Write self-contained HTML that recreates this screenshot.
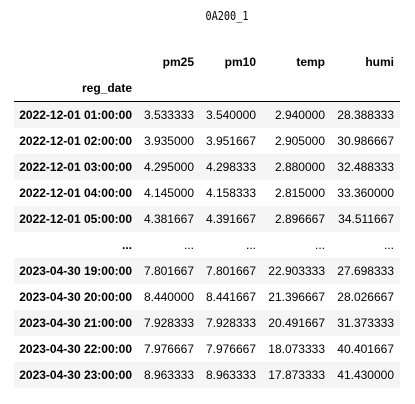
<!DOCTYPE html>
<html><head><meta charset="utf-8"><style>
body{margin:0;width:415px;height:404px;background:#fff;font-family:"Liberation Sans",Arial,sans-serif;font-size:12px;color:#000;position:relative;overflow:hidden}
#title{position:absolute;left:0;width:454px;top:9px;text-align:center;font-family:"DejaVu Sans Mono","Liberation Mono",monospace;font-size:12px;transform:scaleX(0.85);transform-origin:227px 0}
.r{position:absolute;left:14px;width:386px;height:26px;line-height:26px}
.s{background:#f5f5f5}
.c{position:absolute;top:0;text-align:right}
.c0{right:268px;font-weight:bold}.c1{right:206px}.c2{right:144px}.c3{right:75px}.c4{right:6px}
.h .c{font-weight:bold}
#rule{position:absolute;left:14px;width:386px;top:101px;height:1px;background:#000}
</style></head><body>
<div id="title">0A200_1</div>
<div class="r h" style="top:49px">
<span class="c c1">pm25</span><span class="c c2">pm10</span><span class="c c3">temp</span><span class="c c4">humi</span></div>
<div class="r h" style="top:75px"><span class="c c0">reg_date</span></div>
<div id="rule"></div>
<div id="rows"></div>
<script>
const idx=["2022-12-01 01:00:00","2022-12-01 02:00:00","2022-12-01 03:00:00","2022-12-01 04:00:00","2022-12-01 05:00:00","...","2023-04-30 19:00:00","2023-04-30 20:00:00","2023-04-30 21:00:00","2023-04-30 22:00:00","2023-04-30 23:00:00"];
const pm25=["3.533333","3.935000","4.295000","4.145000","4.381667","...","7.801667","8.440000","7.928333","7.976667","8.963333"];
const pm10=["3.540000","3.951667","4.298333","4.158333","4.391667","...","7.801667","8.441667","7.928333","7.976667","8.963333"];
const temp=["2.940000","2.905000","2.880000","2.815000","2.896667","...","22.903333","21.396667","20.491667","18.073333","17.873333"];
const humi=["28.388333","30.986667","32.488333","33.360000","34.511667","...","27.698333","28.026667","31.373333","40.401667","41.430000"];
const host=document.getElementById('rows');
idx.forEach((d,i)=>{
const r=document.createElement('div');
r.className='r'+(i%2==0?' s':'');
r.style.top=(102+i*26)+'px';


[d,pm25[i],pm10[i],temp[i],humi[i]].forEach((v,j)=>{
const c=document.createElement('span');
c.className='c c'+j;
c.textContent=v;


r.appendChild(c);});
host.appendChild(r);});
</script>
</body></html>
